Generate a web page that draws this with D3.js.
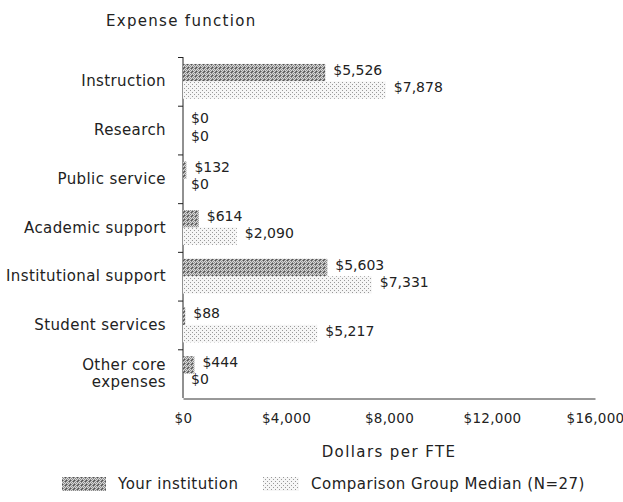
<!DOCTYPE html>
<html lang="en">
  <head>
    <meta charset="UTF-8" />
    <title>Expense function</title>
    <script src="https://cdn.jsdelivr.net/npm/d3@7"></script>
    <style>
      body {
        margin: 0;
        background: #fff;
      }
      text {
        font-family: "DejaVu Sans", Verdana, sans-serif;
        fill: #222;
      }
    </style>
  </head>
  <body>
    <script>
      const width = 623;
      const height = 502;

      const categories = [
        ["Instruction"],
        ["Research"],
        ["Public service"],
        ["Academic support"],
        ["Institutional support"],
        ["Student services"],
        ["Other core", "expenses"],
      ];
      const yourInstitution = [5526, 0, 132, 614, 5603, 88, 444];
      const comparisonMedian = [7878, 0, 0, 2090, 7331, 5217, 0];
      const xTicks = [0, 4000, 8000, 12000, 16000];
      const seriesNames = ["Your institution", "Comparison Group Median (N=27)"];

      const fmt = (v) => "$" + d3.format(",")(v);

      const svg = d3
        .select("body")
        .append("svg")
        .attr("width", width)
        .attr("height", height);

      // textures for the two series
      const defs = svg.append("defs");
      const dark = defs
        .append("pattern")
        .attr("id", "dark")
        .attr("patternUnits", "userSpaceOnUse")
        .attr("width", 4)
        .attr("height", 4);
      dark.append("rect").attr("width", 4).attr("height", 4).attr("fill", "#d8d8d8");
      dark
        .append("path")
        .attr("d", "M0,0h1v1h-1zM2,0h1v1h-1zM1,1h1v1h-1zM3,1h1v1h-1zM0,2h1v1h-1zM2,2h1v1h-1zM1,3h1v1h-1zM3,3h1v1h-1z")
        .attr("fill", "#8c8c8c");
      dark.append("path").attr("d", "M0,3h1v1h-1zM3,0h1v1h-1z").attr("fill", "#555");

      const light = defs
        .append("pattern")
        .attr("id", "light")
        .attr("patternUnits", "userSpaceOnUse")
        .attr("width", 4)
        .attr("height", 4);
      light.append("rect").attr("width", 4).attr("height", 4).attr("fill", "#f6f6f6");
      light
        .append("path")
        .attr("d", "M0,0h1v1h-1zM2,2h1v1h-1z")
        .attr("fill", "#999");

      const fills = ["url(#dark)", "url(#light)"];

      const x = d3.scaleLinear().domain([0, 16000]).range([183, 595]);
      const y = d3
        .scaleBand()
        .domain(d3.range(categories.length))
        .range([57, 398]);
      const y1 = d3
        .scaleBand()
        .domain([0, 1])
        .range([0, y.bandwidth()])
        .paddingOuter(0.4);

      // title
      svg
        .append("text")
        .attr("x", 106)
        .attr("y", 26)
        .style("font-size", "15px")
        .style("letter-spacing", "1.3px")
        .text("Expense function");

      // y axis line and ticks
      svg
        .append("line")
        .attr("x1", x(0))
        .attr("x2", x(0))
        .attr("y1", y(0))
        .attr("y2", 398)
        .attr("stroke", "#222");
      svg
        .selectAll(".ytick")
        .data(d3.range(categories.length))
        .join("line")
        .attr("class", "ytick")
        .attr("x1", x(0) - 5)
        .attr("x2", x(0))
        .attr("y1", (i) => y(i) + 0.5)
        .attr("y2", (i) => y(i) + 0.5)
        .attr("stroke", "#222");

      // category labels
      const cat = svg
        .selectAll(".cat")
        .data(categories)
        .join("text")
        .attr("class", "cat")
        .attr("text-anchor", "end")
        .style("font-size", "15px")
        .style("letter-spacing", "0.4px");
      cat
        .selectAll("tspan")
        .data((d) => d)
        .join("tspan")
        .attr("x", 166)
        .attr("y", function (d, j) {
          const i = categories.indexOf(d3.select(this.parentNode).datum());
          const lines = categories[i].length;
          return y(i) + y.bandwidth() / 2 + 5 + (j - (lines - 1) / 2) * 17;
        })
        .text((d) => d);

      // bars
      const series = [yourInstitution, comparisonMedian];
      series.forEach((vals, s) => {
        svg
          .selectAll(".bar" + s)
          .data(vals)
          .join("rect")
          .attr("class", "bar" + s)
          .attr("x", x(0))
          .attr("y", (d, i) => y(i) + y1(s))
          .attr("width", (d) => x(d) - x(0))
          .attr("height", y1.bandwidth())
          .attr("fill", fills[s]);

        svg
          .selectAll(".val" + s)
          .data(vals)
          .join("text")
          .attr("class", "val" + s)
          .attr("x", (d) => x(d) + 8)
          .attr("y", (d, i) => y(i) + y1(s) + y1.bandwidth() / 2 + 2)
          .style("font-size", "14px")
          .text(fmt);
      });

      // x axis
      const xAxis = svg
        .append("g")
        .attr("transform", "translate(0,398.5)")
        .call(
          d3
            .axisBottom(x)
            .tickValues(xTicks)
            .tickSize(0)
            .tickPadding(15)
            .tickFormat(fmt)
        );
      xAxis.select(".domain").attr("stroke", "#333");
      xAxis
        .selectAll("text")
        .style("font-size", "13.5px")
        .style("font-family", "'DejaVu Sans', sans-serif")
        .style("letter-spacing", "0.3px")
        .attr("fill", "#222");

      svg
        .append("text")
        .attr("x", (x(0) + x(16000)) / 2)
        .attr("y", 457)
        .attr("text-anchor", "middle")
        .style("font-size", "15px")
        .style("letter-spacing", "1.4px")
        .text("Dollars per FTE");

      // legend
      const legendX = [62, 263];
      const legendW = [44, 36];
      const legend = svg
        .selectAll(".legend")
        .data(seriesNames)
        .join("g")
        .attr("class", "legend")
        .attr("transform", (d, i) => `translate(${legendX[i]},477)`);
      legend
        .append("rect")
        .attr("width", (d, i) => legendW[i])
        .attr("height", 14)
        .attr("fill", (d, i) => fills[i]);
      legend
        .append("text")
        .attr("x", (d, i) => legendW[i] + 12)
        .attr("y", 12)
        .style("font-size", "15px")
        .style("letter-spacing", "0.5px")
        .text((d) => d);
    </script>
  </body>
</html>
